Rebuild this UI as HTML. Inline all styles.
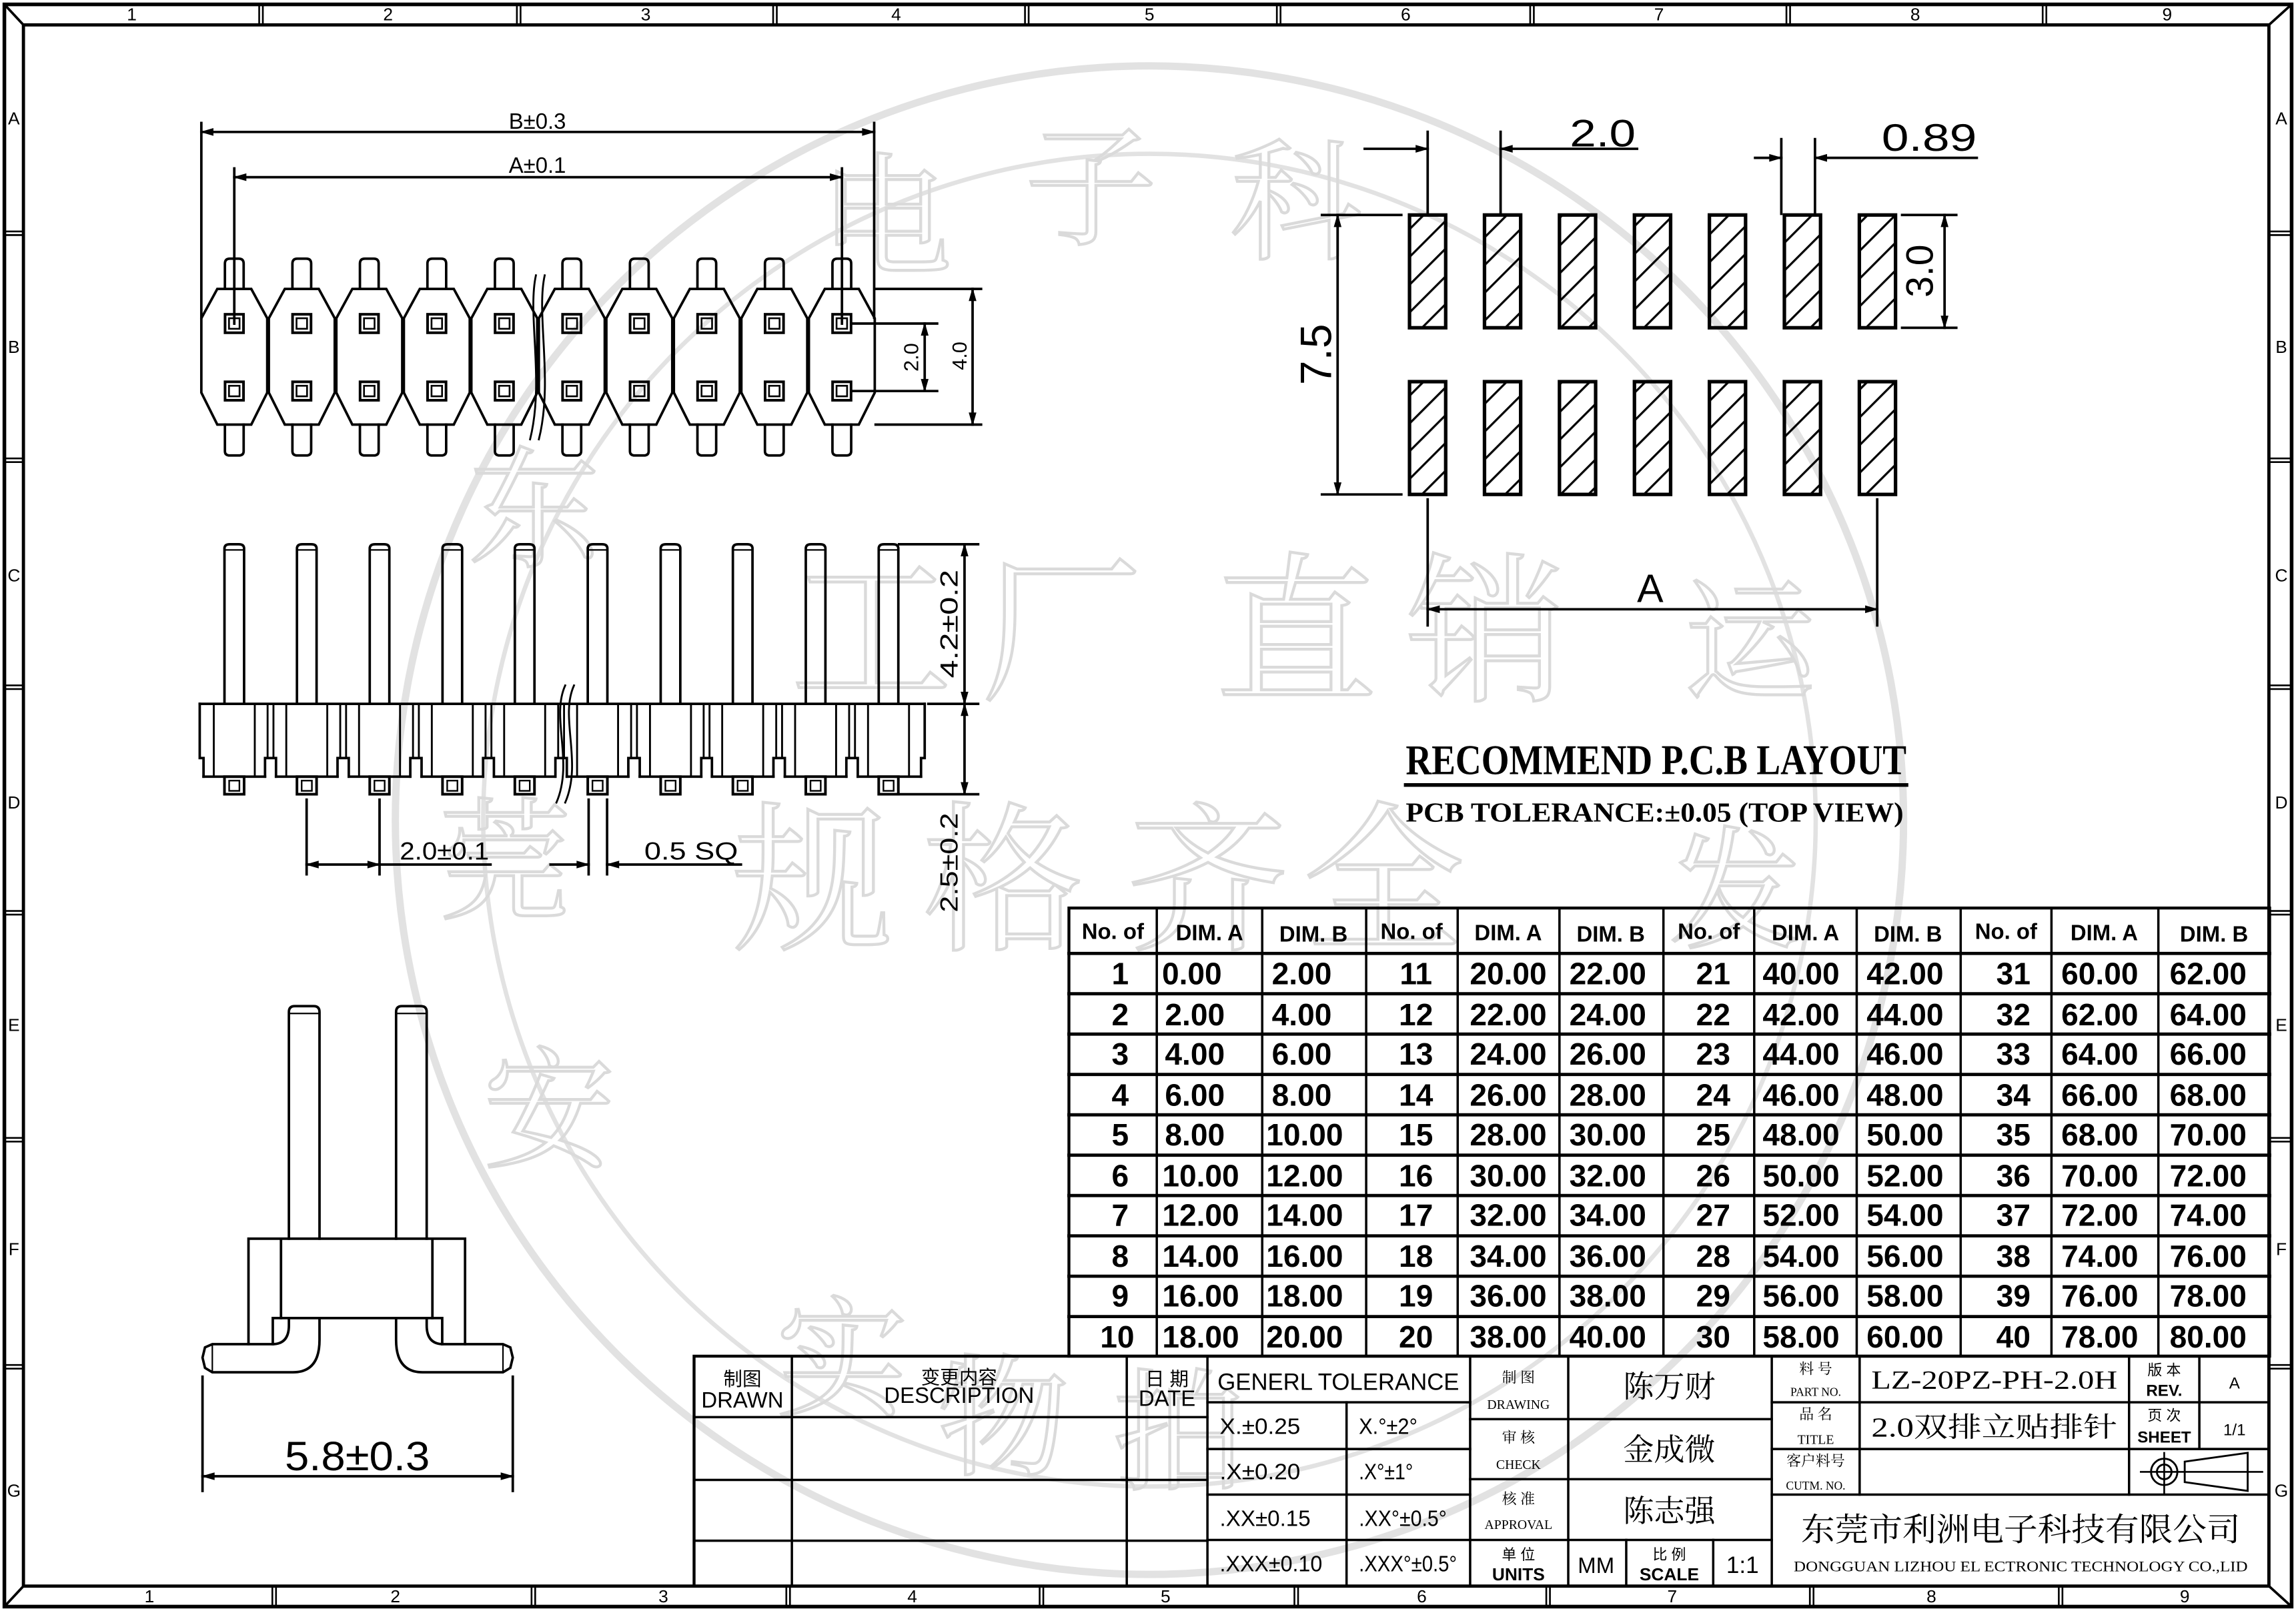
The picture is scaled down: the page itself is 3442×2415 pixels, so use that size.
<!DOCTYPE html>
<html><head><meta charset="utf-8"><style>
html,body{margin:0;padding:0;background:#fff}
svg{display:block}
text{font-family:"Liberation Sans","Noto Sans CJK SC",sans-serif;fill:#000;stroke:none}
.s{font-family:"Liberation Serif","Noto Serif CJK SC","Noto Sans CJK SC",serif}
.tb{font-weight:bold;font-size:21px}
.th{font-family:"Liberation Serif",serif;font-weight:bold;font-size:15px}
.wm{fill:none;stroke:#dadada;stroke-width:2;font-family:"Noto Serif CJK SC","Noto Sans CJK SC",serif}
</style></head><body>
<svg id="svg" width="3442" height="2415" viewBox="0 0 1568 1100" preserveAspectRatio="none" xmlns="http://www.w3.org/2000/svg">
<g fill="none" stroke="#e2e2e2" stroke-width="5">
<circle cx="785" cy="560" r="515"/>
<circle cx="785" cy="560" r="455" stroke-width="3"/>
</g>
<g class="wm" font-size="110">
<text x="540" y="470" class="wm">工</text><text x="670" y="470" class="wm">厂</text><text x="830" y="470" class="wm">直</text><text x="960" y="470" class="wm">销</text>
<text x="500" y="640" class="wm">规</text><text x="630" y="640" class="wm">格</text><text x="770" y="640" class="wm">齐</text><text x="890" y="640" class="wm">全</text>
<text x="560" y="180" class="wm" font-size="90">电</text><text x="700" y="160" class="wm" font-size="90">子</text><text x="840" y="170" class="wm" font-size="90">科</text>
<text x="320" y="380" class="wm" font-size="90">东</text><text x="300" y="620" class="wm" font-size="90">莞</text><text x="330" y="790" class="wm" font-size="90">安</text>
<text x="530" y="960" class="wm" font-size="90">实</text><text x="640" y="1000" class="wm" font-size="90">物</text><text x="760" y="1010" class="wm" font-size="90">拍</text>
<text x="1150" y="470" class="wm" font-size="90">运</text><text x="1140" y="640" class="wm" font-size="90">发</text>
</g>
<g id="g" stroke="#000" fill="none" stroke-linecap="square"></g>

<g font-size="12">
<text x="90" y="14" text-anchor="middle">1</text><text x="265" y="14" text-anchor="middle">2</text><text x="441" y="14" text-anchor="middle">3</text><text x="612" y="14" text-anchor="middle">4</text><text x="785" y="14" text-anchor="middle">5</text><text x="960" y="14" text-anchor="middle">6</text><text x="1133" y="14" text-anchor="middle">7</text><text x="1308" y="14" text-anchor="middle">8</text><text x="1480" y="14" text-anchor="middle">9</text>
<text x="102" y="1094" text-anchor="middle">1</text><text x="270" y="1094" text-anchor="middle">2</text><text x="453" y="1094" text-anchor="middle">3</text><text x="623" y="1094" text-anchor="middle">4</text><text x="796" y="1094" text-anchor="middle">5</text><text x="971" y="1094" text-anchor="middle">6</text><text x="1142" y="1094" text-anchor="middle">7</text><text x="1319" y="1094" text-anchor="middle">8</text><text x="1492" y="1094" text-anchor="middle">9</text>
<text x="9.5" y="85" text-anchor="middle">A</text><text x="9.5" y="241" text-anchor="middle">B</text><text x="9.5" y="397" text-anchor="middle">C</text><text x="9.5" y="552" text-anchor="middle">D</text><text x="9.5" y="704" text-anchor="middle">E</text><text x="9.5" y="857" text-anchor="middle">F</text><text x="9.5" y="1022" text-anchor="middle">G</text>
<text x="1558" y="85" text-anchor="middle">A</text><text x="1558" y="241" text-anchor="middle">B</text><text x="1558" y="397" text-anchor="middle">C</text><text x="1558" y="552" text-anchor="middle">D</text><text x="1558" y="704" text-anchor="middle">E</text><text x="1558" y="857" text-anchor="middle">F</text><text x="1558" y="1022" text-anchor="middle">G</text>
</g>

<text x="367" y="88" font-size="15" text-anchor="middle">B±0.3</text>
<text x="367" y="118" font-size="15" text-anchor="middle">A±0.1</text>
<text transform="translate(627,244) rotate(-90)" font-size="14" text-anchor="middle">2.0</text>
<text transform="translate(660,243) rotate(-90)" font-size="14" text-anchor="middle">4.0</text>
<text transform="translate(654,426) rotate(-90)" font-size="17" text-anchor="middle" textLength="74" lengthAdjust="spacingAndGlyphs">4.2±0.2</text>
<text transform="translate(654,589) rotate(-90)" font-size="17" text-anchor="middle" textLength="68" lengthAdjust="spacingAndGlyphs">2.5±0.2</text>
<text x="273" y="587" font-size="17" textLength="61" lengthAdjust="spacingAndGlyphs">2.0±0.1</text>
<text x="440" y="587" font-size="17" textLength="64" lengthAdjust="spacingAndGlyphs">0.5  SQ</text>
<text x="244" y="1004" font-size="28" text-anchor="middle" textLength="99" lengthAdjust="spacingAndGlyphs">5.8±0.3</text>

<text x="1072" y="100" font-size="26" textLength="45" lengthAdjust="spacingAndGlyphs">2.0</text>
<text x="1285" y="103" font-size="26" textLength="65" lengthAdjust="spacingAndGlyphs">0.89</text>
<text transform="translate(1320,185) rotate(-90)" font-size="26" text-anchor="middle">3.0</text>
<text transform="translate(909,242) rotate(-90)" font-size="30" text-anchor="middle">7.5</text>
<text x="1127" y="411" font-size="27" text-anchor="middle">A</text>
<text class="s" x="960" y="528.5" font-size="29" font-weight="bold" textLength="342" lengthAdjust="spacingAndGlyphs">RECOMMEND P.C.B LAYOUT</text>
<text class="s" x="960" y="561" font-size="19" font-weight="bold" textLength="340" lengthAdjust="spacingAndGlyphs">PCB TOLERANCE:±0.05 (TOP VIEW)</text>

<g class="th" text-anchor="middle">
<text x="760" y="641">No. of</text><text x="826" y="642">DIM. A</text><text x="897" y="643">DIM. B</text>
<text x="964" y="641">No. of</text><text x="1030" y="642">DIM. A</text><text x="1100" y="643">DIM. B</text>
<text x="1167" y="641">No. of</text><text x="1233" y="642">DIM. A</text><text x="1303" y="643">DIM. B</text>
<text x="1370" y="641">No. of</text><text x="1437" y="642">DIM. A</text><text x="1512" y="643">DIM. B</text>
</g>
<g class="tb" text-anchor="middle">
<text x="765" y="672">1</text><text x="814" y="672">0.00</text><text x="889" y="672">2.00</text><text x="967" y="672">11</text><text x="1030" y="672">20.00</text><text x="1098" y="672">22.00</text><text x="1170" y="672">21</text><text x="1230" y="672">40.00</text><text x="1301" y="672">42.00</text><text x="1375" y="672">31</text><text x="1434" y="672">60.00</text><text x="1508" y="672">62.00</text>
<text x="765" y="700">2</text><text x="816" y="700">2.00</text><text x="889" y="700">4.00</text><text x="967" y="700">12</text><text x="1030" y="700">22.00</text><text x="1098" y="700">24.00</text><text x="1170" y="700">22</text><text x="1230" y="700">42.00</text><text x="1301" y="700">44.00</text><text x="1375" y="700">32</text><text x="1434" y="700">62.00</text><text x="1508" y="700">64.00</text>
<text x="765" y="727">3</text><text x="816" y="727">4.00</text><text x="889" y="727">6.00</text><text x="967" y="727">13</text><text x="1030" y="727">24.00</text><text x="1098" y="727">26.00</text><text x="1170" y="727">23</text><text x="1230" y="727">44.00</text><text x="1301" y="727">46.00</text><text x="1375" y="727">33</text><text x="1434" y="727">64.00</text><text x="1508" y="727">66.00</text>
<text x="765" y="755">4</text><text x="816" y="755">6.00</text><text x="889" y="755">8.00</text><text x="967" y="755">14</text><text x="1030" y="755">26.00</text><text x="1098" y="755">28.00</text><text x="1170" y="755">24</text><text x="1230" y="755">46.00</text><text x="1301" y="755">48.00</text><text x="1375" y="755">34</text><text x="1434" y="755">66.00</text><text x="1508" y="755">68.00</text>
<text x="765" y="782">5</text><text x="816" y="782">8.00</text><text x="891" y="782">10.00</text><text x="967" y="782">15</text><text x="1030" y="782">28.00</text><text x="1098" y="782">30.00</text><text x="1170" y="782">25</text><text x="1230" y="782">48.00</text><text x="1301" y="782">50.00</text><text x="1375" y="782">35</text><text x="1434" y="782">68.00</text><text x="1508" y="782">70.00</text>
<text x="765" y="810">6</text><text x="820" y="810">10.00</text><text x="891" y="810">12.00</text><text x="967" y="810">16</text><text x="1030" y="810">30.00</text><text x="1098" y="810">32.00</text><text x="1170" y="810">26</text><text x="1230" y="810">50.00</text><text x="1301" y="810">52.00</text><text x="1375" y="810">36</text><text x="1434" y="810">70.00</text><text x="1508" y="810">72.00</text>
<text x="765" y="837">7</text><text x="820" y="837">12.00</text><text x="891" y="837">14.00</text><text x="967" y="837">17</text><text x="1030" y="837">32.00</text><text x="1098" y="837">34.00</text><text x="1170" y="837">27</text><text x="1230" y="837">52.00</text><text x="1301" y="837">54.00</text><text x="1375" y="837">37</text><text x="1434" y="837">72.00</text><text x="1508" y="837">74.00</text>
<text x="765" y="865">8</text><text x="820" y="865">14.00</text><text x="891" y="865">16.00</text><text x="967" y="865">18</text><text x="1030" y="865">34.00</text><text x="1098" y="865">36.00</text><text x="1170" y="865">28</text><text x="1230" y="865">54.00</text><text x="1301" y="865">56.00</text><text x="1375" y="865">38</text><text x="1434" y="865">74.00</text><text x="1508" y="865">76.00</text>
<text x="765" y="892">9</text><text x="820" y="892">16.00</text><text x="891" y="892">18.00</text><text x="967" y="892">19</text><text x="1030" y="892">36.00</text><text x="1098" y="892">38.00</text><text x="1170" y="892">29</text><text x="1230" y="892">56.00</text><text x="1301" y="892">58.00</text><text x="1375" y="892">39</text><text x="1434" y="892">76.00</text><text x="1508" y="892">78.00</text>
<text x="763" y="920">10</text><text x="820" y="920">18.00</text><text x="891" y="920">20.00</text><text x="967" y="920">20</text><text x="1030" y="920">38.00</text><text x="1098" y="920">40.00</text><text x="1170" y="920">30</text><text x="1230" y="920">58.00</text><text x="1301" y="920">60.00</text><text x="1375" y="920">40</text><text x="1434" y="920">78.00</text><text x="1508" y="920">80.00</text>
</g>

<g text-anchor="middle">
<text x="507" y="946" font-size="13">制图</text><text x="507" y="961" font-size="15">DRAWN</text>
<text x="655" y="945" font-size="13">变更内容</text><text x="655" y="958" font-size="15">DESCRIPTION</text>
<text x="797" y="946" font-size="13">日 期</text><text x="797" y="960" font-size="15">DATE</text>
<text x="914" y="949" font-size="16" textLength="165" lengthAdjust="spacingAndGlyphs">GENERL  TOLERANCE</text>
<text x="1037" y="944" font-size="10" class="s">制 图</text><text x="1037" y="962" font-size="9" class="s">DRAWING</text>
<text x="1037" y="985" font-size="10" class="s">审 核</text><text x="1037" y="1003" font-size="9" class="s">CHECK</text>
<text x="1037" y="1027" font-size="10" class="s">核 准</text><text x="1037" y="1044" font-size="9" class="s">APPROVAL</text>
<text x="1037" y="1065" font-size="10">单 位</text><text x="1037" y="1079" font-size="12" font-weight="bold">UNITS</text>
<text x="1140" y="954" font-size="21" class="s">陈万财</text>
<text x="1140" y="997" font-size="21" class="s">金成微</text>
<text x="1140" y="1039" font-size="21" class="s">陈志强</text>
<text x="1090" y="1074" font-size="15">MM</text>
<text x="1140" y="1065" font-size="10">比 例</text><text x="1140" y="1079" font-size="12" font-weight="bold">SCALE</text>
<text x="1190" y="1074" font-size="16">1:1</text>
<text x="1240" y="938" font-size="10" class="s">料 号</text><text x="1240" y="953" font-size="8" class="s">PART NO.</text>
<text x="1240" y="969" font-size="10" class="s">品 名</text><text x="1240" y="986" font-size="9" class="s">TITLE</text>
<text x="1240" y="1001" font-size="10" class="s">客户料号</text><text x="1240" y="1017" font-size="8" class="s">CUTM. NO.</text>
<text x="1362" y="948" font-size="18" class="s" textLength="168" lengthAdjust="spacingAndGlyphs">LZ-20PZ-PH-2.0H</text>
<text x="1362" y="981" font-size="19" class="s" textLength="168" lengthAdjust="spacingAndGlyphs">2.0双排立贴排针</text>
<text x="1478" y="939" font-size="10">版 本</text><text x="1478" y="953" font-size="11" font-weight="bold">REV.</text>
<text x="1478" y="970" font-size="10">页 次</text><text x="1478" y="985" font-size="11" font-weight="bold">SHEET</text>
<text x="1526" y="948" font-size="11">A</text><text x="1526" y="980" font-size="11">1/1</text>
<text x="1380" y="1052" font-size="22" class="s" textLength="300" lengthAdjust="spacingAndGlyphs">东莞市利洲电子科技有限公司</text>
<text x="1380" y="1073" font-size="10" class="s" textLength="310" lengthAdjust="spacingAndGlyphs">DONGGUAN LIZHOU EL ECTRONIC TECHNOLOGY CO.,LID</text>
</g>
<g font-size="15">
<text x="833" y="979" textLength="55" lengthAdjust="spacingAndGlyphs">X.±0.25</text><text x="928" y="979" textLength="40" lengthAdjust="spacingAndGlyphs">X.°±2°</text>
<text x="833" y="1010" textLength="55" lengthAdjust="spacingAndGlyphs">.X±0.20</text><text x="928" y="1010" textLength="37" lengthAdjust="spacingAndGlyphs">.X°±1°</text>
<text x="833" y="1042" textLength="62" lengthAdjust="spacingAndGlyphs">.XX±0.15</text><text x="928" y="1042" textLength="60" lengthAdjust="spacingAndGlyphs">.XX°±0.5°</text>
<text x="833" y="1073" textLength="70" lengthAdjust="spacingAndGlyphs">.XXX±0.10</text><text x="928" y="1073" textLength="67" lengthAdjust="spacingAndGlyphs">.XXX°±0.5°</text>
</g>
<defs>
<pattern id="hat" patternUnits="userSpaceOnUse" width="13.4" height="13.4" patternTransform="rotate(-45)"><line x1="0" y1="0" x2="13.4" y2="0" stroke="#000" stroke-width="3"/></pattern>
</defs>
</svg>
<script>
const G=document.getElementById('g');const NS='http://www.w3.org/2000/svg';
function el(t,a){const e=document.createElementNS(NS,t);for(const k in a)e.setAttribute(k,a[k]);G.appendChild(e);return e;}
function L(x1,y1,x2,y2,w){el('line',{x1,y1,x2,y2,'stroke-width':w||1.7});}
function R(x,y,w,h,sw,f){el('rect',{x,y,width:w,height:h,'stroke-width':sw||1.7,fill:f||'none'});}
function P(d,sw,f){el('path',{d,'stroke-width':sw||1.7,fill:f||'none'});}
function A(x,y,d){const l=8,w=2.3;let p;
 if(d=='r')p=[[x,y],[x-l,y-w],[x-l,y+w]];else if(d=='l')p=[[x,y],[x+l,y-w],[x+l,y+w]];
 else if(d=='u')p=[[x,y],[x-w,y+l],[x+w,y+l]];else p=[[x,y],[x-w,y-l],[x+w,y-l]];
 el('polygon',{points:p.map(q=>q.join(',')).join(' '),fill:'#000','stroke-width':0.5});}
R(3,3,1562,1094,2.5);R(16,17,1533.5,1066,2.2);
L(3,3,16,17);L(1565,3,1549.5,17);L(3,1097,16,1083);L(1565,1097,1549.5,1083);
[177,353,528,700,872,1045,1220,1395].forEach(x=>{L(x,3,x,17,1.2);L(x+2.5,3,x+2.5,17,1.2);});
[186,363,537,710,884,1056,1236,1406].forEach(x=>{L(x,1083,x,1097,1.2);L(x+2.5,1083,x+2.5,1097,1.2);});
[158,313,468,622,777,932].forEach(y=>{L(3,y,16,y,1.2);L(3,y+2.5,16,y+2.5,1.2);L(1549.5,y,1565,y,1.2);L(1549.5,y+2.5,1565,y+2.5,1.2);});
for(let i=0;i<10;i++){const c=160+i*46.1;
 P(`M${c-11.6},197.3 L${c+11.6},197.3 L${c+22.5},217.3 L${c+22.5},268.1 L${c+11.6},289.9 L${c-11.6},289.9 L${c-22.5},268.1 L${c-22.5},217.3 Z`);
 P(`M${c-6.4},197.3 L${c-6.4},180 Q${c-6.4},176.6 ${c-3},176.6 L${c+3},176.6 Q${c+6.4},176.6 ${c+6.4},180 L${c+6.4},197.3`);
 P(`M${c-6.4},289.9 L${c-6.4},308 Q${c-6.4},311 ${c-3},311 L${c+3},311 Q${c+6.4},311 ${c+6.4},308 L${c+6.4},289.9`);
 [220.9,267].forEach(y=>{R(c-6.3,y-6.3,12.6,12.6,1.8);R(c-3.6,y-3.6,7.2,7.2,1.2);});
}
P('M366,188 C360,215 372,260 362,300',1.3);P('M372,188 C366,215 378,260 368,300',1.3);
L(137.5,84,137.5,217);L(597,84,597,217);L(137.5,90.1,597,90.1);A(137.5,90.1,'l');A(597,90.1,'r');
L(160,115,160,221);L(575,115,575,221);L(160,121,575,121);A(160,121,'l');A(575,121,'r');
L(582,220.9,640,220.9);L(582,267,640,267);L(631.5,220.9,631.5,267);A(631.5,220.9,'u');A(631.5,267,'d');
L(598,197.3,670,197.3);L(598,289.9,670,289.9);L(664.2,197.3,664.2,289.9);A(664.2,197.3,'u');A(664.2,289.9,'d');
const sc=[160,209.5,259.2,308.9,358.3,408.1,457.9,507.2,557,606.8];
L(136.4,480.6,631.5,480.6);
P('M136.4,480.6 L136.4,517.6 L139,517.6 L139,530.3');P('M631.5,480.6 L631.5,517.6 L629,517.6 L629,530.3');
sc.forEach((c,i)=>{
 P(`M${c-6.7},480.6 L${c-6.7},374.5 Q${c-6.7},371.6 ${c-3},371.6 L${c+3},371.6 Q${c+6.7},371.6 ${c+6.7},374.5 L${c+6.7},480.6`);
 L(c-6.7,375.5,c+6.7,375.5,1);
 L(c-14,480.6,c-14,530.3,1.3);L(c+14,480.6,c+14,530.3,1.3);
 const l=i==0?139:c-21, r=i==9?629:c+21;L(l,530.3,r,530.3);
 if(i<9){const m=(c+sc[i+1])/2;L(m-2,480.6,m-2,517.6,1.3);L(m+2,480.6,m+2,517.6,1.3);
  P(`M${c+21},530.3 L${c+21},517.6 L${sc[i+1]-21},517.6 L${sc[i+1]-21},530.3`);}
 R(c-6.7,530.3,13.4,12,1.8);R(c-3.5,533,7,7,1.1);
});
P('M386,468 C376,490 392,520 380,548',1.3);P('M392,468 C382,490 398,520 386,548',1.3);
L(614,371.6,668,371.6);L(634,480.6,668,480.6);L(614,542.3,668,542.3);L(658.7,371.6,658.7,542.3);
A(658.7,371.6,'u');A(658.7,480.6,'d');A(658.7,480.6,'u');A(658.7,542.3,'d');
L(209.4,546,209.4,597);L(259.2,546,259.2,597);L(209.4,590.3,335,590.3);A(209.4,590.3,'l');A(259.2,590.3,'r');
L(402,546,402,597);L(414.6,546,414.6,597);L(376,590.3,402,590.3);A(402,590.3,'r');L(414.6,590.3,506,590.3);A(414.6,590.3,'l');
[[197.3,218.2],[270.5,291.4]].forEach(([a,b])=>{P(`M${a},845.8 L${a},691 Q${a},687 ${a+4},687 L${b-4},687 Q${b},687 ${b},691 L${b},845.8`);L(a,692,b,692,1);});
P('M169.7,917.8 L169.7,845.8 L317.6,845.8 L317.6,917.8');
L(191.9,845.8,191.9,900);L(295.3,845.8,295.3,900);
P('M186.3,917.8 L186.3,900 L302,900 L302,917.8');
P('M197.3,900 L197.3,905 Q197.3,917.8 186,917.8 L145,917.8 L140,920 L138.3,927 L140,934 L145,937 L200,937 Q218.2,937 218.2,915 L218.2,900');
P('M291.4,900 L291.4,905 Q291.4,917.8 302.7,917.8 L343.5,917.8 L348.5,920 L350.2,927 L348.5,934 L343.5,937 L288.7,937 Q270.5,937 270.5,915 L270.5,900');
L(145,918,145,937,1);L(343.5,918,343.5,937,1);
L(138.3,940,138.3,1018);L(350.2,940,350.2,1018);L(138.3,1008,350.2,1008);A(138.3,1008,'l');A(350.2,1008,'r');
for(let i=0;i<7;i++){const x=962.6+i*51.2;[146.8,260.6].forEach(y=>{R(x,y,24.7,77,0.1,'url(#hat)');R(x,y,24.7,77,2.4);});}
L(902.8,146.8,957,146.8);L(902.8,337.6,957,337.6);L(913.5,146.8,913.5,337.6);A(913.5,146.8,'u');A(913.5,337.6,'d');
L(1299,146.8,1336,146.8);L(1299,223.8,1336,223.8);L(1328,146.8,1328,223.8);A(1328,146.8,'u');A(1328,223.8,'d');
L(975,341,975,427);L(1282,341,1282,427);L(975,416,1282,416);A(975,416,'l');A(1282,416,'r');
L(975,90,975,146);L(1024.8,90,1024.8,146);L(932,101.6,975,101.6);A(975,101.6,'r');L(1024.8,101.6,1118,101.6);A(1024.8,101.6,'l');
L(1216.5,95,1216.5,146);L(1239.5,95,1239.5,146);L(1198.6,107.8,1216.5,107.8);A(1216.5,107.8,'r');L(1239.5,107.8,1350,107.8);A(1239.5,107.8,'l');
L(960,536,1302,536,2.5);
R(730,620,820,306,2);
[790,862,933,995.5,1065,1136,1198,1268,1339,1401,1474].forEach(x=>L(x,620,x,926,1.6));
for(let k=0;k<10;k++)L(730,651+k*27.55,1550,651+k*27.55,2.2);
R(474,926,1075.5,157,2);
[540.8,769.5,824.6].forEach(x=>L(x,926,x,1083,1.6));
[967.6,1010.5,1052].forEach(y=>L(474,y,824.6,y,1.6));
[957.5,989.4,1020.5,1051.5].forEach(y=>L(824.6,y,1004,y,1.6));L(919.6,957.5,919.6,1083,1.6);
L(1004,926,1004,1083,1.6);L(1071,926,1071,1083,1.6);
[969,1010,1051.5].forEach(y=>L(1004,y,1210,y,1.6));L(1110.6,1051.5,1110.6,1083,1.6);L(1170,1051.5,1170,1083,1.6);
L(1210,926,1210,1083,1.6);
[957.5,989.4,1020.5].forEach(y=>L(1210,y,1549.5,y,1.6));
L(1270,926,1270,1020.5,1.6);L(1454,926,1454,1020.5,1.6);L(1502,926,1502,989.4,1.6);
el('circle',{cx:1478,cy:1005,r:9,'stroke-width':1.3});el('circle',{cx:1478,cy:1005,r:5,'stroke-width':1.3});
L(1462,1005,1545,1005,1.2);L(1478,992,1478,1020,1.2);
P('M1492,998 L1492,1012 L1535,1018 L1535,992 Z',1.3);
</script>
</body></html>
